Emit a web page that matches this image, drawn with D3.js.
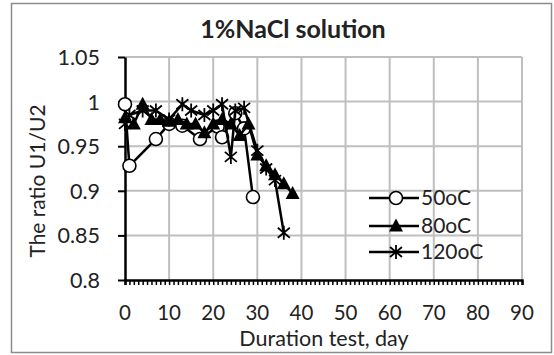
<!DOCTYPE html>
<meta charset="utf-8">
<script src="https://d3js.org/d3.v7.min.js"></script>
<style>
  body { margin: 0; background: #fff; }
  text { font-family: Lato, "Liberation Sans", sans-serif; fill: #222; }
</style>
<div id="chart"></div>
<script>
// data
var days50 = [0, 1, 7, 10, 13, 17, 21, 22, 25, 27, 29];
var ratio50 = [0.997, 0.928, 0.958, 0.975, 0.973, 0.958, 0.972, 0.960, 0.987, 0.970, 0.893];

var days80 = [0, 2, 4, 6, 8, 10, 12, 14, 16, 18, 20, 22, 24, 26, 28, 30, 32, 34, 36, 38];
var ratio80 = [0.982, 0.975, 0.997, 0.980, 0.980, 0.978, 0.980, 0.975, 0.975, 0.965, 0.975, 0.980, 0.975, 0.962, 0.975, 0.940, 0.928, 0.918, 0.908, 0.897];

var days120 = [0, 1, 4, 7, 10, 13, 15, 18, 20, 22, 24, 25, 27, 30, 32, 34, 36];
var ratio120 = [0.975, 0.985, 0.990, 0.990, 0.980, 0.997, 0.990, 0.985, 0.990, 0.997, 0.938, 0.990, 0.993, 0.945, 0.925, 0.912, 0.853];

var seriesNames = ["50oC", "80oC", "120oC"];
var markerTypes = ["circle", "triangle", "star"];
var xTicks = [0, 10, 20, 30, 40, 50, 60, 70, 80, 90];
var yTicks = [0.8, 0.85, 0.9, 0.95, 1, 1.05];

var W = 554, H = 355;
var plot = {left: 125, right: 522, top: 57, bottom: 280};

var svg = d3.select("#chart").append("svg")
    .attr("width", W).attr("height", H);

// outer frame
svg.append("rect")
    .attr("x", 11.5).attr("y", 3.5).attr("width", 540).attr("height", 349)
    .attr("fill", "#fff").attr("stroke", "#8c8c8c").attr("stroke-width", 1.5);

var x = d3.scaleLinear().domain([0, 90]).range([plot.left, plot.right]);
var y = d3.scaleLinear().domain([0.8, 1.05]).range([plot.bottom, plot.top]);

// gridlines
svg.append("g").selectAll("line.v")
  .data(xTicks.slice(1)).enter().append("line")
    .attr("x1", function(d) { return x(d); }).attr("x2", function(d) { return x(d); })
    .attr("y1", plot.top).attr("y2", plot.bottom)
    .attr("stroke", "#bfbfbf").attr("stroke-width", 2);
svg.append("g").selectAll("line.h")
  .data(yTicks.slice(1)).enter().append("line")
    .attr("x1", plot.left).attr("x2", plot.right)
    .attr("y1", function(d) { return y(d); }).attr("y2", function(d) { return y(d); })
    .attr("stroke", "#bfbfbf").attr("stroke-width", 2);

// x axis: minor ticks every day
var xAxis = svg.append("g")
    .attr("transform", "translate(0," + plot.bottom + ")")
    .call(d3.axisBottom(x).tickValues(d3.range(0, 91, 1)).tickSize(5).tickFormat(""));
xAxis.select(".domain").attr("stroke", "#000").attr("stroke-width", 2.5);
xAxis.selectAll(".tick line").attr("stroke", "#000").attr("stroke-width", 1.5);

svg.append("g").selectAll("text")
  .data(xTicks).enter().append("text")
    .attr("x", function(d) { return x(d); })
    .attr("y", 320)
    .attr("text-anchor", "middle")
    .style("font-size", "20.5px")
    .text(function(d) { return d; });

// y axis
var yAxis = svg.append("g")
    .attr("transform", "translate(" + plot.left + ",0)")
    .call(d3.axisLeft(y).tickValues(yTicks).tickSize(7).tickSizeOuter(0)
      .tickFormat(function(d) { return d3.format("")(+d.toFixed(2)); }));
yAxis.select(".domain").attr("stroke", "#000").attr("stroke-width", 2.5);
yAxis.selectAll(".tick line").attr("stroke", "#000").attr("stroke-width", 2);
yAxis.selectAll(".tick text")
    .attr("x", -25).attr("dy", "0.35em")
    .style("font-size", "21.5px").style("font-family", "Lato, sans-serif").attr("fill", "#222");

// titles
svg.append("text")
    .attr("x", 293).attr("y", 38)
    .attr("text-anchor", "middle")
    .style("font-size", "25px").style("font-weight", "bold")
    .text("1%NaCl solution");

svg.append("text")
    .attr("x", 324).attr("y", 346)
    .attr("text-anchor", "middle")
    .style("font-size", "21.5px")
    .text("Duration test, day");

svg.append("text")
    .attr("transform", "translate(45,181) rotate(-90)")
    .attr("text-anchor", "middle")
    .style("font-size", "21px")
    .text("The ratio U1/U2");

// markers
function drawMarker(g, type) {
  if (type === "circle") {
    g.append("circle").attr("r", 6.5)
      .attr("fill", "#fff").attr("stroke", "#000").attr("stroke-width", 1.6);
  } else if (type === "triangle") {
    g.append("path").attr("d", "M0,-7.5L7,5.5L-7,5.5Z").attr("fill", "#000");
  } else {
    g.append("path").attr("d", "M0,-7V7M-6,-5L6,5M-6,5L6,-5")
      .attr("stroke", "#000").attr("stroke-width", 1.8).attr("fill", "none");
  }
}

var series = [
  {days: days50, vals: ratio50},
  {days: days80, vals: ratio80},
  {days: days120, vals: ratio120}
];

var line = d3.line()
    .x(function(d) { return x(d[0]); })
    .y(function(d) { return y(d[1]); });

series.forEach(function(s, i) {
  var pts = d3.zip(s.days, s.vals);
  svg.append("path")
    .datum(pts)
    .attr("d", line)
    .attr("fill", "none").attr("stroke", "#000").attr("stroke-width", 2.5)
    .attr("stroke-linejoin", "round");
  svg.append("g").selectAll("g")
    .data(pts).enter().append("g")
      .attr("transform", function(d) { return "translate(" + x(d[0]) + "," + y(d[1]) + ")"; })
      .each(function() { drawMarker(d3.select(this), markerTypes[i]); });
});

// legend
var legY = [198, 226, 252];
seriesNames.forEach(function(name, i) {
  var g = svg.append("g").attr("transform", "translate(369," + legY[i] + ")");
  g.append("line").attr("x1", 0).attr("x2", 50).attr("y1", 0).attr("y2", 0)
    .attr("stroke", "#000").attr("stroke-width", 2.5);
  var m = g.append("g").attr("transform", "translate(27,0)");
  drawMarker(m, markerTypes[i]);
  g.append("text").attr("x", 52).attr("y", 0).attr("dy", "0.35em")
    .style("font-size", "21px").text(name);
});
</script>
